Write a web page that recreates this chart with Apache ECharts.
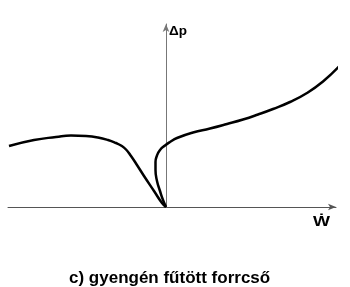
<!DOCTYPE html>
<html>
<head>
<meta charset="utf-8">
<script src="https://cdn.jsdelivr.net/npm/echarts@6/dist/echarts.min.js"></script>
<style>html,body{margin:0;padding:0;background:#fff;}#c{width:350px;height:287px;}</style>
</head>
<body>
<div id="c"></div>
<script>
// Curve (arbitrary units, origin at the axes crossing)
const leftBranchX = [-157, -132, -110, -95, -80, -68, -58, -50, -45, -40, -35, -30, -22, -12, -4, 0];
const leftBranchY = [61, 67, 70, 71.5, 71, 69.5, 67, 64, 61.5, 57.5, 51, 43.5, 31, 16, 4, 0];
const rightBranchX = [0, -3, -6, -9, -10.5, -10.5, -9, -6, -1, 4, 11, 27, 44, 61, 77, 92, 107, 124, 141, 157, 173];
const rightBranchY = [0, 7, 16, 26, 37, 45, 51.5, 57, 61.5, 65, 69, 74.5, 78.5, 83, 87.5, 92.5, 98, 105, 114, 125.5, 140.5];
const yAxisName = 'Δp';
const xAxisName = 'Ẇ';
const caption = 'c) gyengén fűtött forrcső';

const zip = (xs, ys) => xs.map((x, i) => [x, ys[i]]);
const chart = echarts.init(document.getElementById('c'), null, {renderer: 'canvas'});
const axisCommon = {
  axisTick: {show: false}, axisLabel: {show: false}, splitLine: {show: false}
};
chart.setOption({
  animation: false,
  backgroundColor: '#fff',
  title: {
    text: caption, left: 64, top: 265,
    textStyle: {fontFamily: 'Liberation Sans', fontWeight: 'bold', fontSize: 17, color: '#000'}
  },
  grid: {left: 8, right: 14, top: 24, bottom: 80},
  xAxis: Object.assign({
    type: 'value', min: -158, max: 170,
    axisLine: {show: true, onZero: true, symbol: ['none', 'arrow'], symbolSize: [5, 8],
      lineStyle: {color: '#555', width: 1}}
  }, axisCommon),
  yAxis: Object.assign({
    type: 'value', min: 0, max: 183,
    axisLine: {show: true, onZero: true, symbol: ['none', 'arrow'], symbolSize: [5, 8],
      lineStyle: {color: '#777', width: 1}}
  }, axisCommon),
  graphic: [
    {type: 'text', left: 169, top: 24, style: {text: yAxisName, fontFamily: 'Liberation Sans', fontWeight: 'bold', fontSize: 13.5, fill: '#000'}},
    {type: 'text', left: 313, top: 214, scaleX: 1.2, style: {text: xAxisName, fontFamily: 'Liberation Sans', fontWeight: 'bold', fontSize: 15, fill: '#000'}}
  ],
  series: [
    {type: 'line', data: zip(leftBranchX, leftBranchY), smooth: 0.5, showSymbol: false, clip: false,
      lineStyle: {color: '#000', width: 2.5}},
    {type: 'line', data: zip(rightBranchX, rightBranchY), smooth: 0.5, showSymbol: false, clip: false,
      lineStyle: {color: '#000', width: 2.5}}
  ]
});
</script>
</body>
</html>
